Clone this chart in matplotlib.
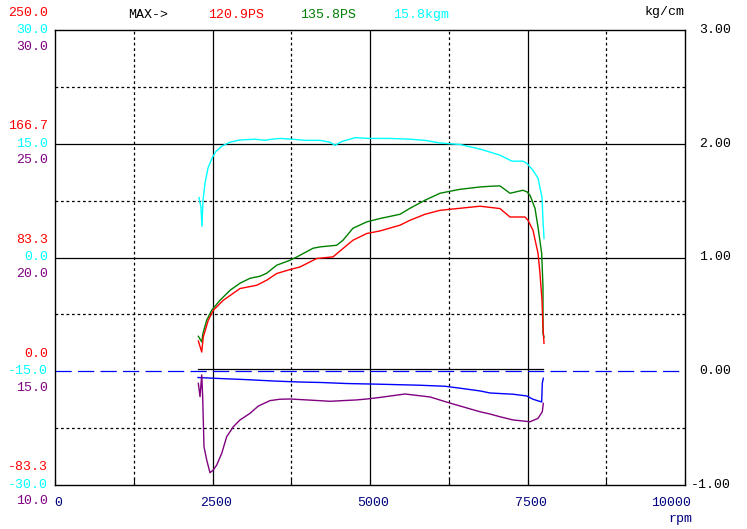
import matplotlib
matplotlib.use('Agg')
import matplotlib.pyplot as plt

# power curves (PS)
red_rpm = [2275, 2329, 2354, 2433, 2513, 2671, 2937, 3202, 3360, 3519, 3730, 3889, 4154, 4413, 4571, 4730,
           4948, 5159, 5476, 5635, 5873, 6111, 6429, 6746, 7063, 7222, 7460, 7508, 7587, 7667, 7698, 7730,
           7746, 7762]
red_ps = [22.2, 14.1, 25.1, 37.4, 44.7, 52.0, 60.6, 63.0, 66.7, 71.6, 74.5, 76.4, 82.6, 83.8, 89.9, 96.0,
          100.9, 102.8, 107.0, 110.6, 115.0, 117.9, 119.4, 120.9, 119.2, 113.0, 113.0, 110.6, 103.3, 86.4, 71.8, 52.0,
          32.2, 20.5]
green_rpm = [2275, 2329, 2349, 2408, 2487, 2619, 2778, 2937, 3095, 3254, 3360, 3519, 3730, 3837, 4095, 4206,
             4471, 4571, 4730, 4948, 5159, 5476, 5635, 5873, 6111, 6429, 6746, 6905, 7063, 7222, 7429, 7492,
             7540, 7619, 7667, 7725, 7746, 7746, 7762]
green_ps = [25.6, 21.5, 27.8, 37.4, 44.7, 52.0, 59.3, 64.5, 68.1, 69.6, 71.8, 77.7, 81.3, 83.7, 90.1, 91.1,
            92.3, 96.0, 104.8, 109.4, 111.9, 115.0, 119.4, 125.3, 130.4, 133.3, 135.0, 135.5, 135.8, 130.4, 132.6, 131.4,
            128.9, 119.4, 105.5, 86.4, 61.5, 27.8, 24.9]

# torque (kgm)
cyan_rpm = [2286, 2317, 2333, 2349, 2381, 2429, 2492, 2556, 2651, 2778, 2937, 3175, 3333, 3444, 3571, 3762,
            3968, 4206, 4365, 4444, 4556, 4762, 5000, 5317, 5635, 5873, 6111, 6429, 6746, 7063, 7254, 7429,
            7492, 7587, 7667, 7730, 7746, 7762]
cyan_kgm = [7.9, 6.6, 4.1, 7.5, 9.8, 11.8, 13.1, 14.0, 14.7, 15.2, 15.5, 15.6, 15.45, 15.6, 15.7, 15.6,
            15.45, 15.45, 15.2, 14.8, 15.3, 15.8, 15.7, 15.7, 15.6, 15.45, 15.1, 14.9, 14.3, 13.5, 12.7, 12.7,
            12.4, 11.5, 10.45, 7.95, 4.9, 2.5]

# purple series (left scale 10..30)
purple_rpm = [2275, 2302, 2329, 2344, 2365, 2408, 2460, 2513, 2567, 2646, 2725, 2830, 2937, 3095, 3227, 3413,
              3571, 3730, 3995, 4365, 4789, 4948, 5159, 5556, 5952, 6270, 6746, 6905, 7063, 7270, 7540, 7667,
              7735, 7751]
purple_val = [14.47, 13.88, 14.84, 13.88, 11.68, 11.10, 10.54, 10.66, 10.88, 11.39, 12.12, 12.56, 12.86, 13.15, 13.47, 13.71,
              13.77, 13.78, 13.74, 13.68, 13.74, 13.78, 13.85, 14.0, 13.87, 13.60, 13.22, 13.12, 13.00, 12.86, 12.78, 12.93,
              13.22, 13.59]

# boost (kg/cm)
blue_rpm = [2270, 2619, 3016, 3440, 3837, 4233, 4630, 5159, 5794, 6190, 6429, 6746, 6905, 7270, 7487, 7587,
            7725, 7735, 7751]
blue_val = [-0.055, -0.064, -0.073, -0.085, -0.094, -0.099, -0.108, -0.114, -0.123, -0.132, -0.149, -0.173, -0.191,
            -0.202, -0.217, -0.246, -0.270, -0.105, -0.062]
black_rpm = [2270, 7750]
black_val = [0.018, 0.018]

max_labels = ['MAX->', '120.9PS', '135.8PS', '15.8kgm']
max_colors = ['black', 'red', 'green', 'cyan']
max_x = [128, 208, 300, 393]

right_levels = [3, 2, 1, 0, -1]
red_labels = ['250.0', '166.7', '83.3', '0.0', '-83.3']
cyan_labels = ['30.0', '15.0', '0.0', '-15.0', '-30.0']
purple_labels = ['30.0', '25.0', '20.0', '15.0', '10.0']
x_ticks = [0, 2500, 5000, 7500, 10000]
x_labels = ['0', '2500', '5000', '7500', '10000']

W, H = 747, 529
FONT = 'Liberation Mono'
FS = 9.5


def ps2r(v):
    return [p / 83.333 for p in v]


def kgm2r(v):
    return [k / 15.0 + 1 for k in v]


def pur2r(v):
    return [(p - 10) / 5.0 - 1 for p in v]


fig = plt.figure(figsize=(W / 100, H / 100), dpi=100)
ax = fig.add_axes([55 / W, 1 - 485 / H, 630 / W, 455 / H])
ax.set_xlim(0, 10000)
ax.set_ylim(-1, 3)

# grid
for x in [2500, 5000, 7500]:
    ax.axvline(x, color='black', lw=0.9, zorder=1)
for x in [1250, 3750, 6250, 8750]:
    ax.axvline(x, color='black', lw=0.9, dashes=(2.2, 2.2), zorder=1)
for y in [1, 2]:
    ax.axhline(y, color='black', lw=0.9, zorder=1)
for y in [-0.5, 0.5, 1.5, 2.5]:
    ax.axhline(y, color='black', lw=0.9, dashes=(2.2, 2.2), zorder=1)
ax.axhline(0, color='blue', lw=0.9, dashes=(13, 5), zorder=2)

# data
ax.plot(black_rpm, black_val, color='black', lw=0.9, zorder=3)
ax.plot(cyan_rpm, kgm2r(cyan_kgm), color='cyan', lw=1.0, zorder=3)
ax.plot(green_rpm, ps2r(green_ps), color='green', lw=1.0, zorder=3)
ax.plot(red_rpm, ps2r(red_ps), color='red', lw=1.0, zorder=4)
ax.plot(blue_rpm, blue_val, color='blue', lw=1.0, zorder=3)
ax.plot(purple_rpm, pur2r(purple_val), color='purple', lw=1.0, zorder=3)

for s in ax.spines.values():
    s.set_linewidth(1.0)
ax.set_xticks([1250 * i for i in range(9)])
ax.tick_params(axis='x', direction='in', length=4, labelbottom=False, top=False)
ax.set_yticks([])

# left multi-scale labels
tr = ax.get_yaxis_transform()
px = 4.0 / 455
for lv, r, c, p in zip(right_levels, red_labels, cyan_labels, purple_labels):
    ax.text(-7 / 630, lv + 17.5 * px, r, color='red', ha='right', va='center', transform=tr,
            family=FONT, fontsize=FS, clip_on=False)
    ax.text(-7 / 630, lv, c, color='cyan', ha='right', va='center', transform=tr,
            family=FONT, fontsize=FS, clip_on=False)
    ax.text(-7 / 630, lv - 16.5 * px, p, color='purple', ha='right', va='center', transform=tr,
            family=FONT, fontsize=FS, clip_on=False)
    ax.text(46 / 630 + 1, lv, '%.2f' % lv, color='black', ha='right', va='center', transform=tr,
            family=FONT, fontsize=FS, clip_on=False)

# x labels
xtr = ax.get_xaxis_transform()
for xt, lab in zip(x_ticks, x_labels):
    if xt == x_ticks[-1]:
        ax.text(xt + 95, -18 / 455, lab, color='navy', ha='right', va='center', transform=xtr,
                family=FONT, fontsize=FS, clip_on=False)
    else:
        ax.text(xt + 50, -18 / 455, lab, color='navy', ha='center', va='center', transform=xtr,
                family=FONT, fontsize=FS, clip_on=False)
fig.text(668 / W, 1 - 519 / H, 'rpm', color='navy', ha='left', va='center', family=FONT, fontsize=FS)

# header
for lab, c, x in zip(max_labels, max_colors, max_x):
    fig.text(x / W, 1 - 15 / H, lab, color=c, ha='left', va='center', family=FONT, fontsize=FS)
fig.text(645 / W, 1 - 12 / H, 'kg/cm', color='black', ha='left', va='center', family=FONT, fontsize=FS)

fig.savefig('out.png', dpi=100)
